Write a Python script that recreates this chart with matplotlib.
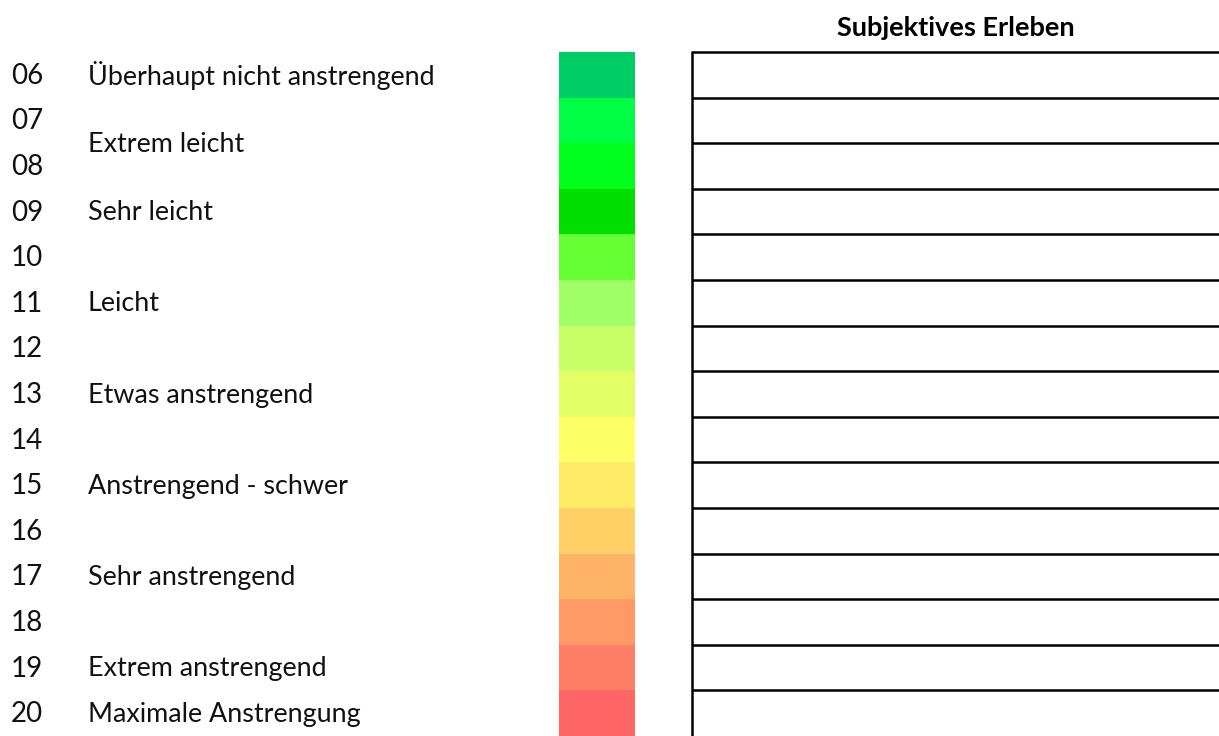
import matplotlib.pyplot as plt
from matplotlib.patches import Rectangle

plt.rcParams['font.family'] = ['Lato', 'DejaVu Sans']

# Borg scale
levels = ['06', '07', '08', '09', '10', '11', '12', '13', '14', '15', '16', '17', '18', '19', '20']
colors = ['#00CC66', '#00FF44', '#00FF1C', '#00DD00', '#66FF33', '#A0FF66', '#C8FF66', '#E2FF66',
          '#FFFF66', '#FFEB66', '#FFD066', '#FFB366', '#FF9966', '#FF7E66', '#FF6666']
# label text and the row position it sits at (7.5 = between 07 and 08)
label_pos = [6, 7.5, 9, 11, 13, 15, 17, 19, 20]
label_txt = ['Überhaupt nicht anstrengend', 'Extrem leicht', 'Sehr leicht', 'Leicht',
             'Etwas anstrengend', 'Anstrengend - schwer', 'Sehr anstrengend',
             'Extrem anstrengend', 'Maximale Anstrengung']
title = 'Subjektives Erleben'

W, H = 1219, 736
top = 52
rowh = (H - top) / len(levels)

fig = plt.figure(figsize=(W / 100, H / 100), dpi=100)
ax = fig.add_axes([0, 0, 1, 1])
ax.set_xlim(0, W)
ax.set_ylim(H, 0)
ax.axis('off')

def ypos(v):
    return top + (v - 6) * rowh

for i, lv in enumerate(levels):
    y0 = top + i * rowh
    ax.add_patch(Rectangle((559, y0), 76, rowh, facecolor=colors[i], edgecolor='none'))
    ax.text(11, y0 + rowh / 2 + 1, lv, fontsize=20, va='center', ha='left', color='#111111')
    ax.plot([692, W], [y0, y0], color='black', lw=1.8, solid_capstyle='butt')

for p, t in zip(label_pos, label_txt):
    ax.text(88, ypos(p) + rowh / 2 + 1, t, fontsize=19.4, va='center', ha='left', color='#111111')

ax.plot([692, 692], [top - 0.9, H], color='black', lw=1.8, solid_capstyle='butt')
ax.text(956, 28, title, fontsize=19.5, fontweight='bold', ha='center', va='center')

fig.savefig('out.png', dpi=100)
